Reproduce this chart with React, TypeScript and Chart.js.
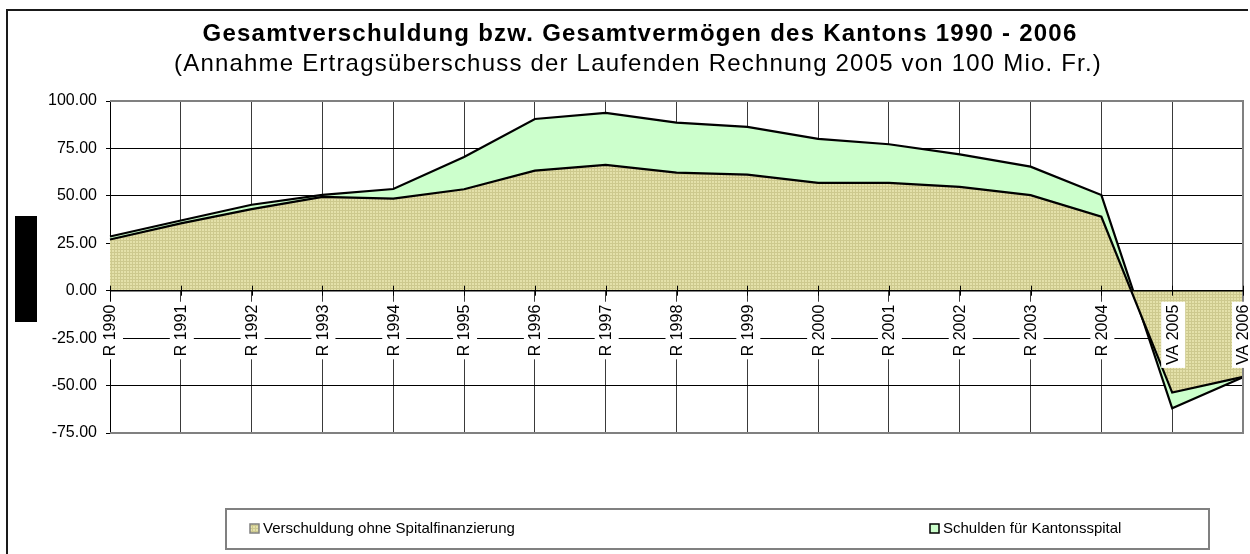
import React, { useEffect, useRef } from 'react';
import { Chart, registerables } from 'chart.js';

Chart.register(...registerables);

const categories = [
  'R 1990', 'R 1991', 'R 1992', 'R 1993', 'R 1994', 'R 1995', 'R 1996', 'R 1997', 'R 1998',
  'R 1999', 'R 2000', 'R 2001', 'R 2002', 'R 2003', 'R 2004', 'VA 2005', 'VA 2006',
];
// Verschuldung ohne Spitalfinanzierung (Mio. Fr.)
const verschuldungOhneSpital = [27.0, 35.5, 43.0, 49.5, 48.5, 53.5, 63.3, 66.3, 62.2, 61.2, 56.8, 56.8, 54.7, 50.4, 39.0, -53.7, -45.4];
// Schulden für Kantonsspital (stacked on top)
const schuldenKantonsspital = [1.6, 1.5, 2.3, 1.0, 5.1, 17.0, 27.2, 27.4, 26.4, 25.2, 23.2, 20.4, 17.2, 15.0, 11.4, -8.3, -0.2];
const yTickValues = [100, 75, 50, 25, 0, -25, -50, -75];
const seriesNames = ['Verschuldung ohne Spitalfinanzierung', 'Schulden für Kantonsspital'];
const titleText = 'Gesamtverschuldung bzw. Gesamtvermögen des Kantons 1990 - 2006';
const subtitleText = '(Annahme Ertragsüberschuss der Laufenden Rechnung 2005 von 100 Mio. Fr.)';

const FONT = '"Liberation Sans", Arial, Helvetica, sans-serif';

function makePattern(): CanvasPattern | string {
  const c = document.createElement('canvas');
  c.width = 3;
  c.height = 3;
  const g = c.getContext('2d');
  if (!g) return '#DCD8A0';
  g.fillStyle = '#E4E1AA';
  g.fillRect(0, 0, 3, 3);
  g.fillStyle = '#CDC98E';
  g.fillRect(0, 0, 3, 1);
  g.fillRect(0, 0, 1, 3);
  const p = g.createPattern(c, 'repeat');
  return p || '#DCD8A0';
}

function drawSpacedText(ctx: CanvasRenderingContext2D, text: string, cx: number, cy: number, font: string, targetWidth: number) {
  ctx.save();
  ctx.font = font;
  (ctx as any).letterSpacing = '0px';
  const w0 = ctx.measureText(text).width;
  const ls = Math.max(0, (targetWidth - w0) / text.length);
  (ctx as any).letterSpacing = ls + 'px';
  ctx.textAlign = 'left';
  ctx.textBaseline = 'middle';
  ctx.fillStyle = '#000';
  ctx.fillText(text, cx - targetWidth / 2, cy);
  ctx.restore();
}

const decorPlugin = {
  id: 'decor',
  beforeDraw(chart: any) {
    const ctx = chart.ctx as CanvasRenderingContext2D;
    ctx.save();
    ctx.fillStyle = '#fff';
    ctx.fillRect(0, 0, chart.width, chart.height);
    // outer chart border (left and top visible)
    ctx.strokeStyle = '#1a1a1a';
    ctx.lineWidth = 2;
    ctx.beginPath();
    ctx.moveTo(7, chart.height + 5);
    ctx.lineTo(7, 10);
    ctx.lineTo(1248, 10);
    ctx.stroke();
    // black box at left (axis title placeholder)
    ctx.fillStyle = '#000';
    ctx.fillRect(15, 216, 22, 106);
    ctx.restore();
  },
  afterDatasetsDraw(chart: any) {
    const ctx = chart.ctx as CanvasRenderingContext2D;
    const xs = chart.scales.x;
    const ys = chart.scales.y;
    const area = chart.chartArea;
    ctx.save();
    // plot area border (grey top/right/bottom)
    ctx.strokeStyle = '#808080';
    ctx.lineWidth = 2;
    ctx.beginPath();
    ctx.moveTo(area.left, area.top);
    ctx.lineTo(area.right, area.top);
    ctx.lineTo(area.right, area.bottom);
    ctx.lineTo(area.left, area.bottom);
    ctx.stroke();
    // category axis line at zero
    const y0 = ys.getPixelForValue(0);
    ctx.strokeStyle = '#000';
    ctx.lineWidth = 1.5;
    ctx.beginPath();
    ctx.moveTo(area.left, y0);
    ctx.lineTo(area.right, y0);
    ctx.stroke();
    // tick marks across zero line
    ctx.lineWidth = 1;
    chart.data.labels.forEach((_: string, i: number) => {
      const x = Math.round(xs.getPixelForValue(i)) + 0.5;
      ctx.beginPath();
      ctx.moveTo(x, y0 - 5);
      ctx.lineTo(x, y0 + 5);
      ctx.stroke();
    });
    // category labels: rotated, white backdrop, just under zero line
    ctx.font = '16px ' + FONT;
    chart.data.labels.forEach((lab: string, i: number) => {
      const x = xs.getPixelForValue(i);
      const top = y0 + 14;
      const w = ctx.measureText(lab).width;
      ctx.fillStyle = '#fff';
      ctx.fillRect(x - 11, top - 3, 24, w + 6);
      ctx.save();
      ctx.translate(x + 1, top);
      ctx.rotate(-Math.PI / 2);
      ctx.fillStyle = '#000';
      ctx.textAlign = 'right';
      ctx.textBaseline = 'middle';
      ctx.fillText(lab, 0, 0);
      ctx.restore();
    });
    ctx.restore();
  },
  afterDraw(chart: any) {
    const ctx = chart.ctx as CanvasRenderingContext2D;
    ctx.save();
    // titles
    drawSpacedText(ctx, titleText, 640, 34, 'bold 24px ' + FONT, 875);
    drawSpacedText(ctx, subtitleText, 638, 64, '24px ' + FONT, 928);
    // legend box
    ctx.strokeStyle = '#808080';
    ctx.lineWidth = 2;
    ctx.strokeRect(226, 509, 983, 40);
    const ds = chart.data.datasets;
    const items = [
      { sx: 250, tx: 263 },
      { sx: 930, tx: 943 },
    ];
    ctx.font = '15px ' + FONT;
    ctx.textBaseline = 'middle';
    ctx.textAlign = 'left';
    ds.forEach((d: any, i: number) => {
      const it = items[i];
      const cy = 529;
      ctx.fillStyle = d.backgroundColor;
      ctx.fillRect(it.sx, cy - 5, 9, 9);
      ctx.strokeStyle = i === 0 ? '#808080' : '#000';
      ctx.lineWidth = 1.5;
      ctx.strokeRect(it.sx, cy - 5, 9, 9);
      ctx.fillStyle = '#000';
      ctx.fillText(d.label, it.tx, cy);
    });
    ctx.restore();
  },
};

export default function App() {
  const ref = useRef<HTMLCanvasElement | null>(null);
  useEffect(() => {
    if (!ref.current) return;
    const pattern = makePattern();
    const chart = new Chart(ref.current, {
      type: 'line',
      data: {
        labels: categories,
        datasets: [
          {
            label: seriesNames[0],
            data: verschuldungOhneSpital,
            backgroundColor: pattern as any,
            borderColor: '#000',
            borderWidth: 2.2,
            fill: 'origin',
            pointRadius: 0,
            tension: 0,
          },
          {
            label: seriesNames[1],
            data: schuldenKantonsspital,
            backgroundColor: '#CCFFCC',
            borderColor: '#000',
            borderWidth: 2.2,
            fill: '-1',
            pointRadius: 0,
            tension: 0,
          },
        ],
      },
      options: {
        animation: false,
        responsive: false,
        maintainAspectRatio: false,
        devicePixelRatio: 1,
        layout: { padding: { left: 0, right: 7, top: 101, bottom: 121 } },
        plugins: {
          legend: { display: false },
          title: { display: false },
          tooltip: { enabled: false },
        },
        scales: {
          x: {
            type: 'category',
            offset: false,
            grid: { display: true, color: '#3a3a3a', lineWidth: 1, drawTicks: false },
            border: { display: false },
            ticks: { display: false },
            afterFit: (s: any) => { s.height = 0; },
          },
          y: {
            stacked: true,
            min: -75,
            max: 100,
            afterBuildTicks: (s: any) => { s.ticks = yTickValues.map((v) => ({ value: v })); },
            grid: { color: '#000', lineWidth: 1, tickLength: 4, drawTicks: true },
            border: { display: true, color: '#000', width: 1 },
            ticks: {
              color: '#000',
              padding: 9,
              font: { family: FONT, size: 16 },
              callback: (v: any) => Number(v).toFixed(2),
            },
            afterFit: (s: any) => { s.width = 110; },
          },
        },
      },
      plugins: [decorPlugin],
    });
    return () => chart.destroy();
  }, []);
  return (
    <div style={{ position: 'absolute', left: 0, top: 0, width: 1250, height: 554 }}>
      <canvas ref={ref} width={1250} height={554} style={{ width: 1250, height: 554, display: 'block' }} />
    </div>
  );
}
